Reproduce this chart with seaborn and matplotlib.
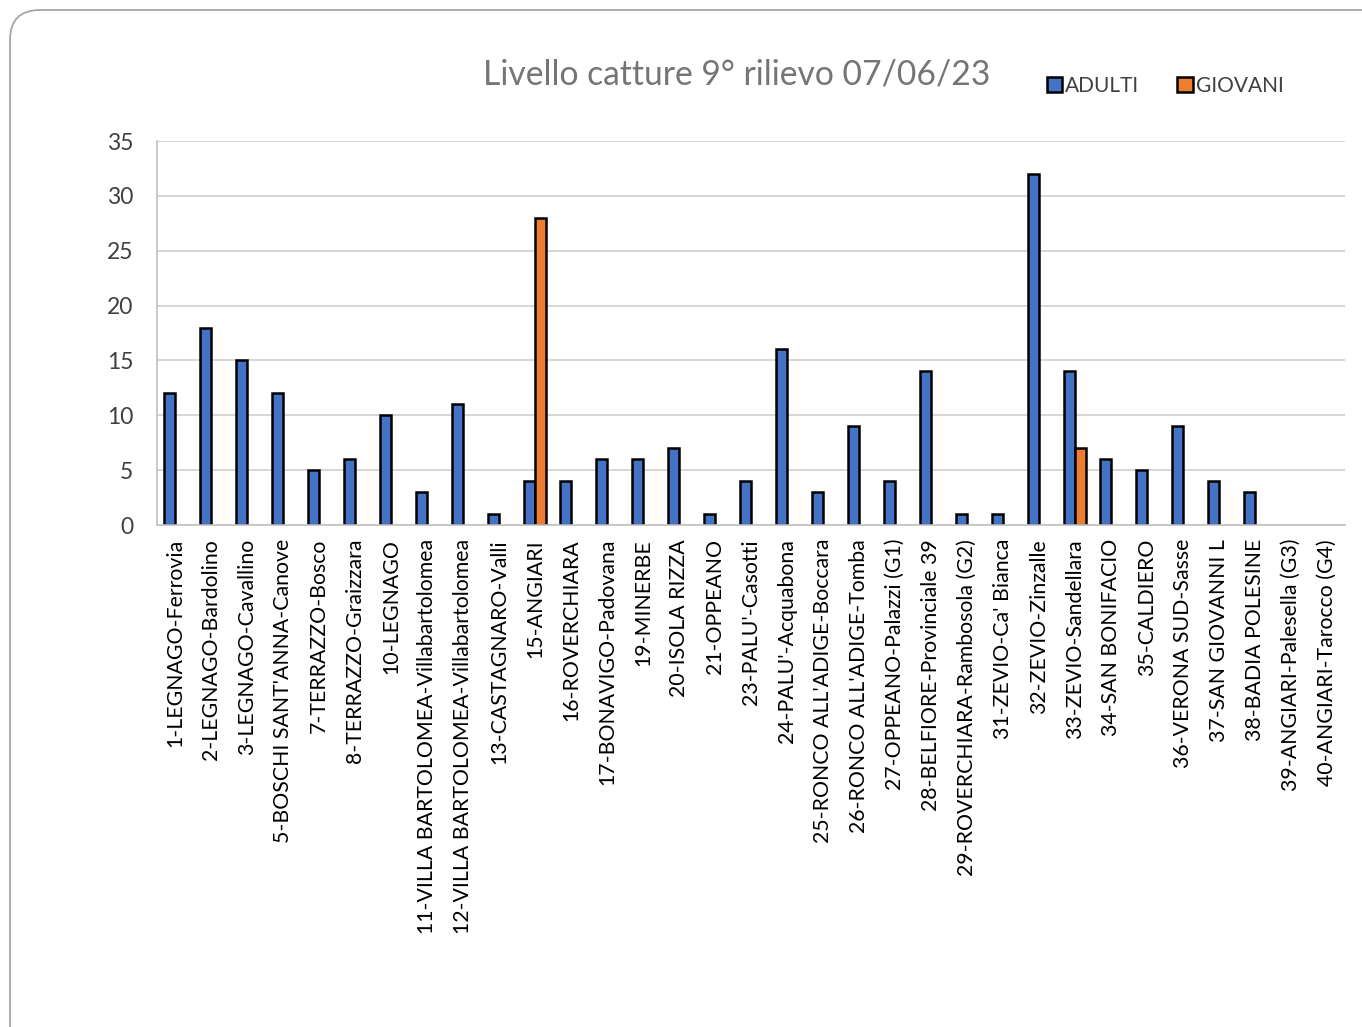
import matplotlib
matplotlib.use("Agg")
import matplotlib.pyplot as plt
from matplotlib.patches import FancyBboxPatch, Patch
from matplotlib.transforms import IdentityTransform
import pandas as pd
import seaborn as sns

# dati del rilievo
stazioni = [
    "1-LEGNAGO-Ferrovia", "2-LEGNAGO-Bardolino", "3-LEGNAGO-Cavallino",
    "5-BOSCHI SANT'ANNA-Canove", "7-TERRAZZO-Bosco", "8-TERRAZZO-Graizzara",
    "10-LEGNAGO", "11-VILLA BARTOLOMEA-Villabartolomea",
    "12-VILLA BARTOLOMEA-Villabartolomea", "13-CASTAGNARO-Valli",
    "15-ANGIARI", "16-ROVERCHIARA", "17-BONAVIGO-Padovana", "19-MINERBE",
    "20-ISOLA RIZZA", "21-OPPEANO", "23-PALU'-Casotti", "24-PALU'-Acquabona",
    "25-RONCO ALL'ADIGE-Boccara", "26-RONCO ALL'ADIGE-Tomba",
    "27-OPPEANO-Palazzi (G1)", "28-BELFIORE-Provinciale 39",
    "29-ROVERCHIARA-Rambosola (G2)", "31-ZEVIO-Ca' Bianca", "32-ZEVIO-Zinzalle",
    "33-ZEVIO-Sandellara", "34-SAN BONIFACIO", "35-CALDIERO",
    "36-VERONA SUD-Sasse", "37-SAN GIOVANNI L", "38-BADIA POLESINE",
    "39-ANGIARI-Palesella (G3)", "40-ANGIARI-Tarocco (G4)",
]
adulti = [12, 18, 15, 12, 5, 6, 10, 3, 11, 1, 4, 4, 6, 6, 7, 1, 4, 16, 3, 9,
          4, 14, 1, 1, 32, 14, 6, 5, 9, 4, 3, 0, 0]
giovani = [0, 0, 0, 0, 0, 0, 0, 0, 0, 0, 28, 0, 0, 0, 0, 0, 0, 0, 0, 0,
           0, 0, 0, 0, 0, 7, 0, 0, 0, 0, 0, 0, 0]
serie = ["ADULTI", "GIOVANI"]
colori = ["#4472C4", "#ED7D31"]
titolo = "Livello catture 9° rilievo 07/06/23"

df = pd.DataFrame({"stazione": stazioni, "ADULTI": adulti, "GIOVANI": giovani})
df = df.melt(id_vars="stazione", var_name="tipo", value_name="catture")

sns.set_style("white")
plt.rcParams['font.family'] = ['Lato', 'DejaVu Sans']

fig = plt.figure(figsize=(13.62, 10.27), dpi=100)
ax = fig.add_axes([157/1362, 1-525/1027, (1345-157)/1362, (525-141)/1027])

sns.barplot(data=df, x="stazione", y="catture", hue="tipo", hue_order=serie,
            palette=colori, width=0.62, gap=0, edgecolor="black", linewidth=1.8,
            saturation=1, ax=ax, legend=False)

# barre a zero non devono mostrare il bordo
for p in ax.patches:
    if p.get_height() == 0:
        p.set_visible(False)

ax.set_ylim(0, 35)
ax.set_yticks(range(0, 36, 5))
ax.set_xlim(-0.5, len(stazioni) - 0.5)
ax.yaxis.grid(True, color="#d0d0d0", lw=1.2)
ax.set_axisbelow(True)
ax.set_xlabel("")
ax.set_ylabel("")
for s in ["top", "right"]:
    ax.spines[s].set_visible(False)
ax.spines["left"].set_color("#c0c0c0")
ax.spines["bottom"].set_color("#c0c0c0")
ax.spines["left"].set_linewidth(1.2)
ax.spines["bottom"].set_linewidth(1.2)
ax.tick_params(axis="y", length=0, pad=17, labelsize=16.5, labelcolor="#404040")
ax.tick_params(axis="x", length=0, pad=10, labelsize=15.3, labelcolor="black")
plt.setp(ax.get_xticklabels(), rotation=90)

fig.text(737/1362, 1-74/1027, titolo, ha="center", va="center",
         fontsize=24.2, color="#757575")

maniglie = [Patch(facecolor=c, edgecolor="black", linewidth=1.8) for c in colori]
fig.legend(maniglie, serie, loc="center", bbox_to_anchor=(1165/1362, 1-86/1027),
           ncol=2, frameon=False, fontsize=15, handlelength=0.75, handleheight=0.75,
           handletextpad=0.15, columnspacing=1.8, labelcolor="#404040")

# cornice arrotondata
cornice = FancyBboxPatch((10, -60), 1420, 1017 + 60,
                         boxstyle="round,pad=0,rounding_size=30",
                         transform=IdentityTransform(), facecolor="none",
                         edgecolor="#a6a6a6", linewidth=1.3)
fig.patches.append(cornice)

fig.savefig("out.png", dpi=100)
